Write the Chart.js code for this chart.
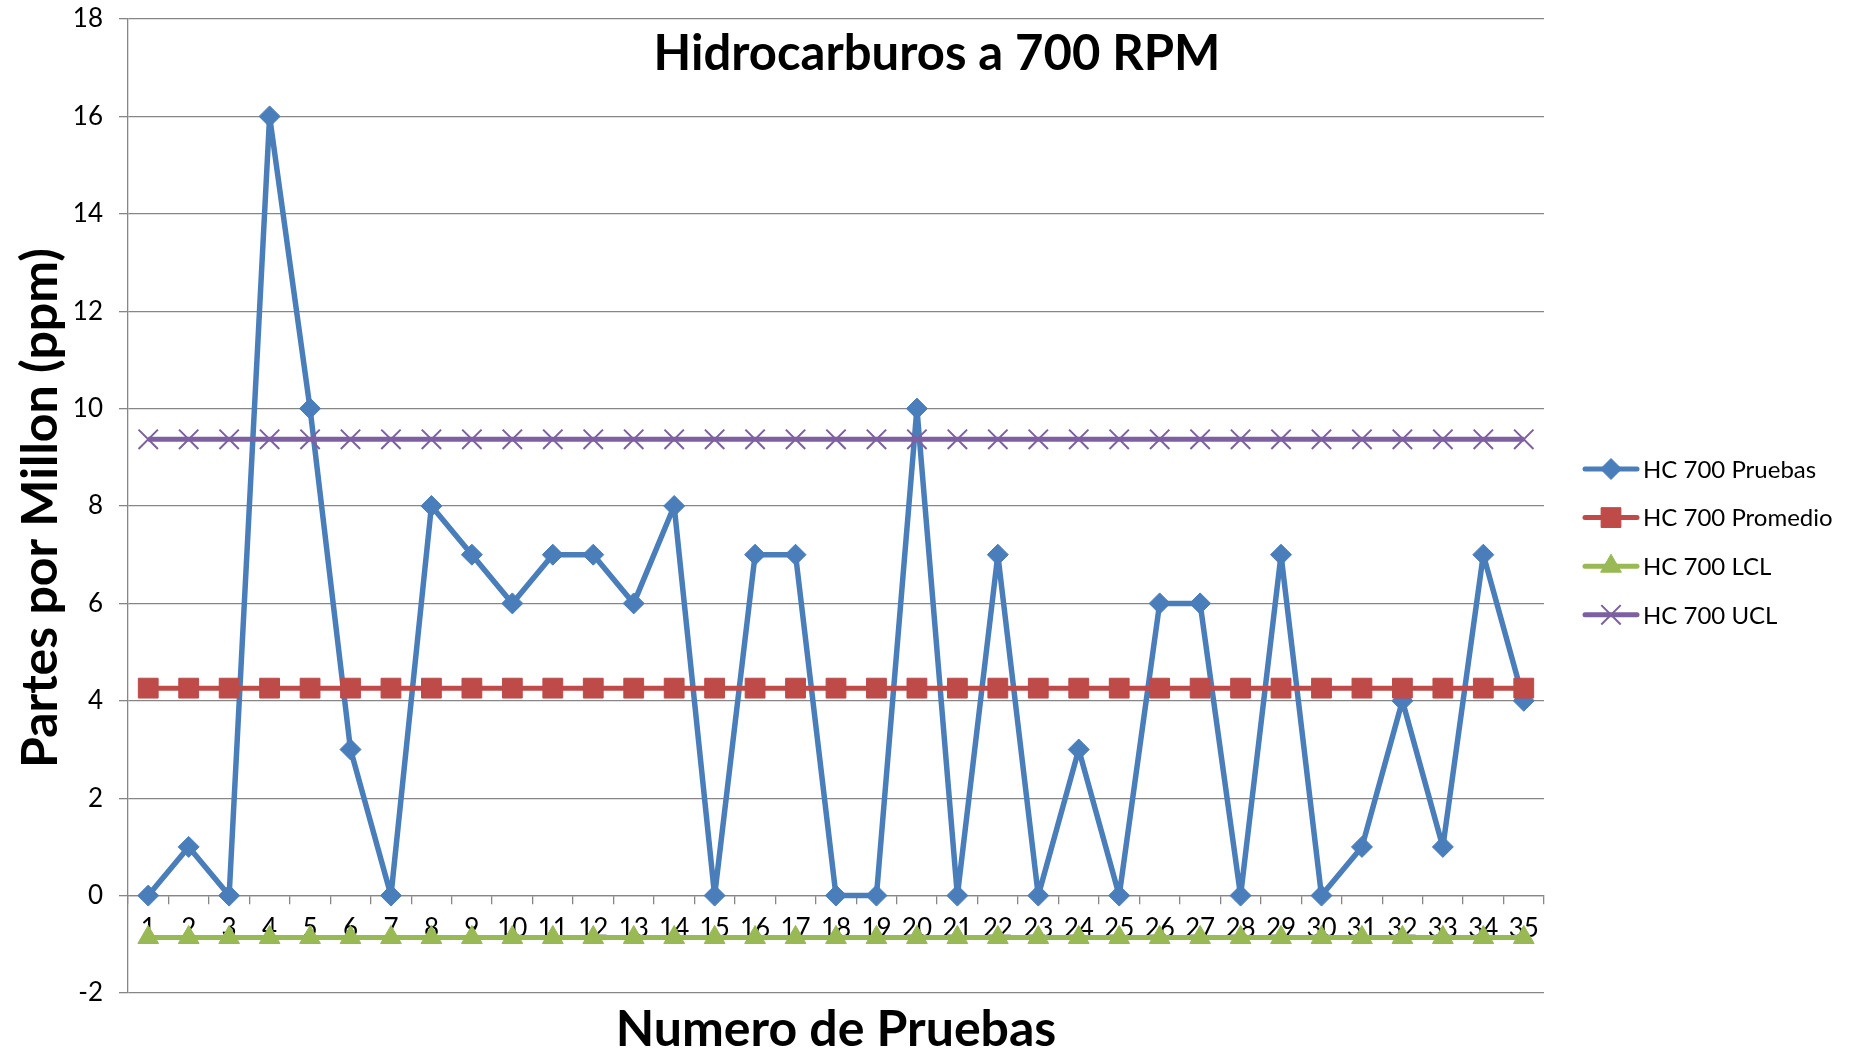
<!DOCTYPE html>
<html>
<head>
<meta charset="utf-8">
<script src="https://cdn.jsdelivr.net/npm/chart.js@4/dist/chart.umd.min.js"></script>
<style>
  html, body { margin: 0; padding: 0; background: #ffffff; }
  #wrap { width: 1854px; height: 1054px; }
</style>
</head>
<body>
<div id="wrap"><canvas id="c" width="1854" height="1054"></canvas></div>
<script>
// ---- Data ----
const categories = ['1','2','3','4','5','6','7','8','9','10','11','12','13','14','15','16','17','18','19','20','21','22','23','24','25','26','27','28','29','30','31','32','33','34','35'];
const pruebas = [0,1,0,16,10,3,0,8,7,6,7,7,6,8,0,7,7,0,0,10,0,7,0,3,0,6,6,0,7,0,1,4,1,7,4];
const promedio = [4.26,4.26,4.26,4.26,4.26,4.26,4.26,4.26,4.26,4.26,4.26,4.26,4.26,4.26,4.26,4.26,4.26,4.26,4.26,4.26,4.26,4.26,4.26,4.26,4.26,4.26,4.26,4.26,4.26,4.26,4.26,4.26,4.26,4.26,4.26];
const lcl = [-0.86,-0.86,-0.86,-0.86,-0.86,-0.86,-0.86,-0.86,-0.86,-0.86,-0.86,-0.86,-0.86,-0.86,-0.86,-0.86,-0.86,-0.86,-0.86,-0.86,-0.86,-0.86,-0.86,-0.86,-0.86,-0.86,-0.86,-0.86,-0.86,-0.86,-0.86,-0.86,-0.86,-0.86,-0.86];
const ucl = [9.37,9.37,9.37,9.37,9.37,9.37,9.37,9.37,9.37,9.37,9.37,9.37,9.37,9.37,9.37,9.37,9.37,9.37,9.37,9.37,9.37,9.37,9.37,9.37,9.37,9.37,9.37,9.37,9.37,9.37,9.37,9.37,9.37,9.37,9.37];
const seriesNames = ['HC 700 Pruebas','HC 700 Promedio','HC 700 LCL','HC 700 UCL'];
const yTicks = [-2,0,2,4,6,8,10,12,14,16,18];
const chartTitle = 'Hidrocarburos a 700 RPM';
const xTitle = 'Numero de Pruebas';
const yTitle = 'Partes por Millon (ppm)';

const FONT = 'Lato, "Open Sans", sans-serif';
const GRID = '#868686';

function drawMarker(ctx, style, x, y, r, fill, stroke, bw) {
  ctx.save();
  ctx.beginPath();
  ctx.fillStyle = fill; ctx.strokeStyle = stroke; ctx.lineWidth = bw;
  if (style === 'rectRot') {
    ctx.moveTo(x, y - r); ctx.lineTo(x + r, y); ctx.lineTo(x, y + r); ctx.lineTo(x - r, y); ctx.closePath();
    ctx.fill(); ctx.stroke();
  } else if (style === 'rect') {
    const s = r * Math.SQRT1_2;
    ctx.rect(x - s, y - s, 2 * s, 2 * s); ctx.fill(); ctx.stroke();
  } else if (style === 'triangle') {
    ctx.moveTo(x, y - r);
    ctx.lineTo(x + r * Math.sin(Math.PI * 2 / 3), y - r * Math.cos(Math.PI * 2 / 3));
    ctx.lineTo(x - r * Math.sin(Math.PI * 2 / 3), y - r * Math.cos(Math.PI * 2 / 3));
    ctx.closePath(); ctx.fill(); ctx.stroke();
  } else if (style === 'crossRot') {
    const o = r * Math.SQRT1_2;
    ctx.moveTo(x - o, y - o); ctx.lineTo(x + o, y + o);
    ctx.moveTo(x - o, y + o); ctx.lineTo(x + o, y - o);
    ctx.stroke();
  }
  ctx.restore();
}

const textPlugin = {
  id: 'textPlugin',
  afterDraw(chart) {
    const ctx = chart.ctx;
    ctx.save();
    ctx.fillStyle = '#000000';
    ctx.textAlign = 'center';
    ctx.textBaseline = 'alphabetic';
    // Chart title
    ctx.font = 'bold 49px ' + FONT;
    ctx.fillText(chartTitle, 937, 70);
    // X axis title
    ctx.font = 'bold 50px ' + FONT;
    ctx.fillText(xTitle, 836, 1046);
    // Y axis title
    ctx.save();
    ctx.translate(57, 508);
    ctx.rotate(-Math.PI / 2);
    ctx.fillText(yTitle, 0, 0);
    ctx.restore();
    // Legend
    const ds = chart.data.datasets;
    ctx.font = '24px ' + FONT;
    ctx.textAlign = 'left';
    ctx.textBaseline = 'middle';
    for (let i = 0; i < ds.length; i++) {
      const d = ds[i];
      const y = 469 + i * 48.6;
      ctx.save();
      ctx.strokeStyle = d.borderColor; ctx.lineWidth = 5; ctx.lineCap = 'round';
      ctx.beginPath(); ctx.moveTo(1585, y); ctx.lineTo(1637, y); ctx.stroke();
      ctx.restore();
      drawMarker(ctx, d.pointStyle, 1611, y, d.pointRadius, d.pointBackgroundColor, d.pointBorderColor, d.pointBorderWidth);
      ctx.fillStyle = '#000000';
      ctx.fillText(d.label, 1643, y + 1);
    }
    ctx.restore();
  }
};

const chart = new Chart(document.getElementById('c'), {
  type: 'line',
  data: {
    labels: categories,
    datasets: [
      { label: seriesNames[0], data: pruebas, order: 4,
        borderColor: '#4A7EBB', backgroundColor: '#4A7EBB', borderWidth: 5.5, borderJoinStyle: 'round', borderCapStyle: 'round',
        pointStyle: 'rectRot', pointRadius: 10.5, pointBackgroundColor: '#4A7EBB', pointBorderColor: '#4A7EBB', pointBorderWidth: 1, tension: 0 },
      { label: seriesNames[1], data: promedio, order: 3,
        borderColor: '#BE4B48', backgroundColor: '#BE4B48', borderWidth: 5, borderJoinStyle: 'round',
        pointStyle: 'rect', pointRadius: 14, pointBackgroundColor: '#BE4B48', pointBorderColor: '#BE4B48', pointBorderWidth: 1, tension: 0 },
      { label: seriesNames[2], data: lcl, order: 2,
        borderColor: '#98B954', backgroundColor: '#98B954', borderWidth: 5, borderJoinStyle: 'round',
        pointStyle: 'triangle', pointRadius: 12, pointBackgroundColor: '#98B954', pointBorderColor: '#98B954', pointBorderWidth: 1, tension: 0 },
      { label: seriesNames[3], data: ucl, order: 1,
        borderColor: '#7D60A0', backgroundColor: '#7D60A0', borderWidth: 5, borderJoinStyle: 'round',
        pointStyle: 'crossRot', pointRadius: 13.7, pointBackgroundColor: '#7D60A0', pointBorderColor: '#7D60A0', pointBorderWidth: 2, tension: 0 }
    ]
  },
  options: {
    responsive: false,
    maintainAspectRatio: false,
    devicePixelRatio: 1,
    animation: false,
    layout: { padding: { left: 0, right: 310, top: 19, bottom: 61 } },
    plugins: { legend: { display: false }, title: { display: false }, tooltip: { enabled: false } },
    scales: {
      x: {
        type: 'category',
        position: { y: 0 },
        offset: true,
        z: 1,
        grid: { offset: true, drawOnChartArea: false, drawTicks: true, tickLength: 8, color: GRID, lineWidth: 1.3 },
        border: { display: true, color: GRID, width: 1.3 },
        ticks: { color: '#000000', font: { family: FONT, size: 26 }, padding: 9, maxRotation: 0, autoSkip: false }
      },
      y: {
        position: 'left',
        min: -2, max: 18,
        afterFit(scale) { scale.width = 128; scale.paddingTop = 0; scale.paddingBottom = 0; },
        afterBuildTicks(scale) { scale.ticks = yTicks.map(v => ({ value: v })); },
        grid: { color: GRID, lineWidth: 1.3, tickLength: 9, drawTicks: true },
        border: { display: true, color: GRID, width: 1.3 },
        ticks: { color: '#000000', font: { family: FONT, size: 26 }, padding: 16 }
      }
    }
  },
  plugins: [textPlugin]
});
</script>
</body>
</html>
